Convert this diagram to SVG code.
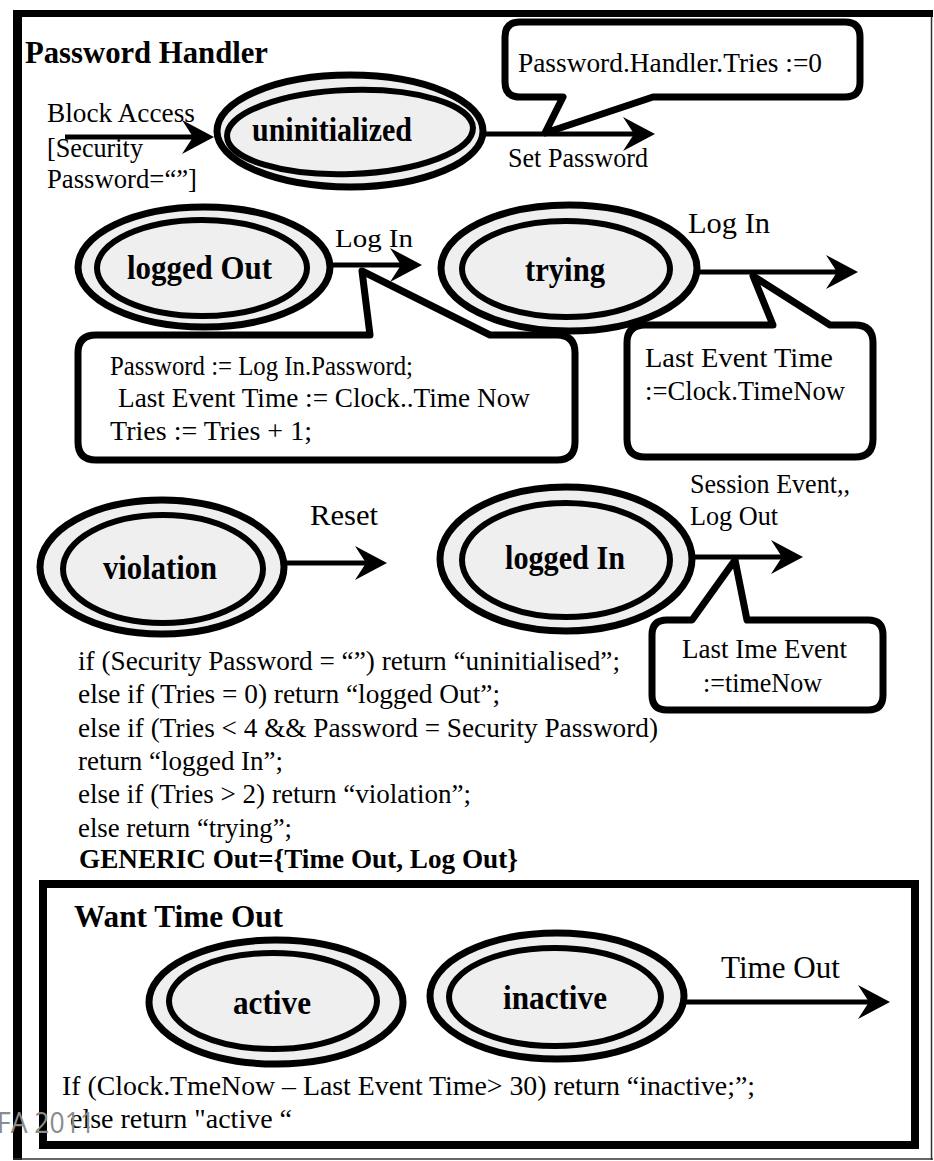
<svg xmlns="http://www.w3.org/2000/svg" width="934" height="1161" viewBox="0 0 934 1161">
  <defs>
    <style>
      .txt { font-family: "Liberation Serif", "Times New Roman", serif; fill: #000; }
      .lbl { font-size: 27px; }
      .state { font-size: 33px; font-weight: bold; }
      .title { font-size: 31px; font-weight: bold; }
      .ring-out { fill: #efefef; stroke: #000; stroke-width: 7; }
      .ring-in { fill: #efefef; stroke: #000; stroke-width: 6; }
      .callout { fill: #fff; stroke: #000; stroke-width: 7; stroke-linejoin: round; }
      .edge { fill: none; stroke: #000; stroke-width: 5; marker-end: url(#arrowhead); }
      .mark { font-family: "Open Sans", "DejaVu Sans", sans-serif; font-size: 29px; fill: #8c8c8c; }
    </style>
    <marker id="arrowhead" markerUnits="userSpaceOnUse" viewBox="-34 -18 36 36" markerWidth="36" markerHeight="36" refX="-6" refY="0" orient="auto">
      <path d="M0,0 L-32,-17 L-21,0 L-32,17 Z" fill="#000"/>
    </marker>
  </defs>

  <rect x="0" y="0" width="934" height="1161" fill="#fff"/>

  <!-- outer frame: heavy left/top rules, light right/bottom rules -->
  <g id="frame">
    <line x1="17.5" y1="10" x2="17.5" y2="1160" stroke="#000" stroke-width="9"/>
    <line x1="13" y1="13.5" x2="933" y2="13.5" stroke="#000" stroke-width="7"/>
    <line x1="931.5" y1="17" x2="931.5" y2="1160" stroke="#333" stroke-width="1.5"/>
    <line x1="13" y1="1159" x2="933" y2="1159" stroke="#333" stroke-width="1.5"/>
    <text class="txt title" x="25" y="63" textLength="243" lengthAdjust="spacingAndGlyphs">Password Handler</text>
  </g>

  <!-- states -->
  <g id="node-uninitialized">
    <ellipse class="ring-out" cx="350" cy="131" rx="133" ry="56"/>
    <ellipse class="ring-in" cx="350" cy="132" rx="123" ry="42" transform="rotate(-2 350 132)"/>
    <text class="txt state" x="252" y="141" textLength="160" lengthAdjust="spacingAndGlyphs">uninitialized</text>
  </g>

  <g id="node-logged-out">
    <ellipse class="ring-out" cx="204" cy="267" rx="126" ry="60"/>
    <ellipse class="ring-in" cx="202" cy="268" rx="105" ry="48"/>
    <text class="txt state" x="127" y="279" textLength="145" lengthAdjust="spacingAndGlyphs">logged Out</text>
  </g>

  <g id="node-trying">
    <ellipse class="ring-out" cx="569" cy="268" rx="128" ry="63"/>
    <ellipse class="ring-in" cx="566" cy="269" rx="104" ry="48"/>
    <text class="txt state" x="525" y="281" textLength="80" lengthAdjust="spacingAndGlyphs">trying</text>
  </g>

  <g id="node-violation">
    <ellipse class="ring-out" cx="162" cy="567" rx="122" ry="67"/>
    <ellipse class="ring-in" cx="163" cy="569" rx="100" ry="54"/>
    <text class="txt state" x="103" y="579" textLength="114" lengthAdjust="spacingAndGlyphs">violation</text>
  </g>

  <g id="node-logged-in">
    <ellipse class="ring-out" cx="566" cy="559" rx="126" ry="72"/>
    <ellipse class="ring-in" cx="566" cy="560" rx="104" ry="57"/>
    <text class="txt state" x="505" y="569" textLength="120" lengthAdjust="spacingAndGlyphs">logged In</text>
  </g>

  <!-- transitions -->
  <g id="connectors">
    <line class="edge" x1="65" y1="137" x2="208" y2="137"/>
    <line class="edge" x1="480" y1="134" x2="649" y2="134"/>
    <line class="edge" x1="330" y1="265" x2="416" y2="265"/>
    <line class="edge" x1="697" y1="272" x2="852" y2="272"/>
    <line class="edge" x1="287" y1="563" x2="381" y2="563"/>
    <line class="edge" x1="692" y1="557" x2="797" y2="557"/>
    <line class="edge" x1="685" y1="1002" x2="884" y2="1002"/>
  </g>

  <!-- transition labels -->
  <g id="labels">
    <text class="txt lbl" x="47" y="122" textLength="148" lengthAdjust="spacingAndGlyphs">Block Access</text>
    <text class="txt lbl" x="47" y="157" textLength="96" lengthAdjust="spacingAndGlyphs">[Security</text>
    <text class="txt lbl" x="47" y="188" textLength="150" lengthAdjust="spacingAndGlyphs">Password=“”]</text>
    <text class="txt lbl" x="508" y="167" textLength="140" lengthAdjust="spacingAndGlyphs">Set Password</text>
    <text class="txt" font-size="25" x="335" y="247" textLength="78" lengthAdjust="spacingAndGlyphs">Log  In</text>
    <text class="txt" font-size="29" x="688" y="233" textLength="82" lengthAdjust="spacingAndGlyphs">Log In</text>
    <text class="txt" font-size="30" x="310" y="525" textLength="68" lengthAdjust="spacingAndGlyphs">Reset</text>
    <text class="txt lbl" x="690" y="493" textLength="160" lengthAdjust="spacingAndGlyphs">Session  Event,,</text>
    <text class="txt lbl" x="690" y="525" textLength="88" lengthAdjust="spacingAndGlyphs">Log Out</text>
  </g>

  <!-- action callouts -->
  <g id="callout-set-password">
    <path class="callout" d="M520,22 H845 Q860,22 860,37 V82 Q860,97 845,97 H653 L545,133 L563,97 H520 Q505,97 505,82 V37 Q505,22 520,22 Z"/>
    <text class="txt" font-size="28" x="518" y="72" textLength="304" lengthAdjust="spacingAndGlyphs">Password.Handler.Tries :=0</text>
  </g>

  <g id="callout-log-in">
    <path class="callout" d="M96,335 H370 L362,271 L490,335 H557 Q575,335 575,353 V442 Q575,460 557,460 H96 Q78,460 78,442 V353 Q78,335 96,335 Z"/>
    <text class="txt lbl" x="110" y="375" textLength="303" lengthAdjust="spacingAndGlyphs">Password :=  Log In.Password;</text>
    <text class="txt lbl" x="118" y="407" textLength="412" lengthAdjust="spacingAndGlyphs">Last Event Time := Clock..Time Now</text>
    <text class="txt lbl" x="110" y="440" textLength="202" lengthAdjust="spacingAndGlyphs">Tries := Tries + 1;</text>
  </g>

  <g id="callout-retry">
    <path class="callout" d="M645,325 H773 L753,276 L830,325 H855 Q873,325 873,343 V439 Q873,457 855,457 H645 Q627,457 627,439 V343 Q627,325 645,325 Z"/>
    <text class="txt lbl" x="645" y="367" textLength="188" lengthAdjust="spacingAndGlyphs">Last  Event Time</text>
    <text class="txt lbl" x="645" y="400" textLength="200" lengthAdjust="spacingAndGlyphs">:=Clock.TimeNow</text>
  </g>

  <g id="callout-session">
    <path class="callout" d="M667,620 H692 L735,560 L747,620 H868 Q883,620 883,635 V695 Q883,710 868,710 H667 Q652,710 652,695 V635 Q652,620 667,620 Z"/>
    <text class="txt lbl" x="682" y="658" textLength="165" lengthAdjust="spacingAndGlyphs">Last Ime Event</text>
    <text class="txt lbl" x="703" y="692" textLength="119" lengthAdjust="spacingAndGlyphs">:=timeNow</text>
  </g>

  <!-- state function -->
  <g id="state-rule">
    <text class="txt lbl" x="78" y="670" textLength="542" lengthAdjust="spacingAndGlyphs">if (Security Password = “”) return “uninitialised”;</text>
    <text class="txt lbl" x="78" y="703" textLength="422" lengthAdjust="spacingAndGlyphs">else if (Tries = 0) return “logged Out”;</text>
    <text class="txt lbl" x="78" y="737" textLength="580" lengthAdjust="spacingAndGlyphs">else if (Tries &lt; 4 &amp;&amp; Password = Security Password)</text>
    <text class="txt lbl" x="78" y="770" textLength="205" lengthAdjust="spacingAndGlyphs">return “logged In”;</text>
    <text class="txt lbl" x="78" y="803" textLength="393" lengthAdjust="spacingAndGlyphs">else if (Tries &gt; 2) return “violation”;</text>
    <text class="txt lbl" x="78" y="837" textLength="214" lengthAdjust="spacingAndGlyphs">else return “trying”;</text>
    <text class="txt lbl" font-weight="bold" x="79" y="868" textLength="439" lengthAdjust="spacingAndGlyphs">GENERIC Out={Time Out, Log Out}</text>
  </g>

  <!-- nested machine: Want Time Out -->
  <g id="want-time-out">
    <rect x="43" y="884" width="872" height="261" fill="none" stroke="#000" stroke-width="8"/>
    <text class="txt title" x="74" y="927" textLength="209" lengthAdjust="spacingAndGlyphs">Want Time Out</text>
  </g>

  <g id="node-active">
    <ellipse class="ring-out" cx="276" cy="1002" rx="127" ry="62"/>
    <ellipse class="ring-in" cx="273" cy="1001" rx="104" ry="48"/>
    <text class="txt state" x="233" y="1014" textLength="78" lengthAdjust="spacingAndGlyphs">active</text>
  </g>

  <g id="node-inactive">
    <ellipse class="ring-out" cx="557" cy="996" rx="127" ry="63"/>
    <ellipse class="ring-in" cx="555" cy="997" rx="106" ry="49"/>
    <text class="txt state" x="503" y="1009" textLength="104" lengthAdjust="spacingAndGlyphs">inactive</text>
  </g>

  <g id="timeout-labels">
    <text class="txt" font-size="31" x="721" y="978" textLength="119" lengthAdjust="spacingAndGlyphs">Time Out</text>
    <text class="txt lbl" x="62" y="1095" textLength="693" lengthAdjust="spacingAndGlyphs">If  (Clock.TmeNow – Last Event Time&gt; 30)  return “inactive;”;</text>
    <text class="txt lbl" x="70" y="1128" textLength="222" lengthAdjust="spacingAndGlyphs">else return "active “</text>
  </g>

  <text class="mark" x="-3" y="1133" textLength="98" lengthAdjust="spacingAndGlyphs">FA 2011</text>
</svg>
